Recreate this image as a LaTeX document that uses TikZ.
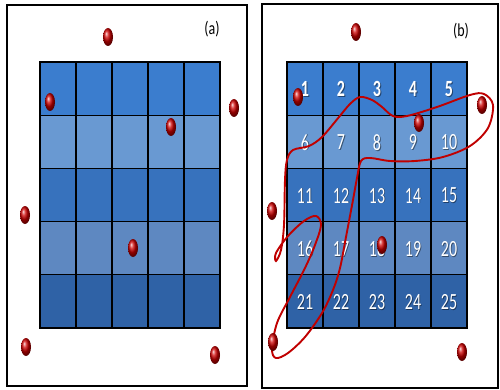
\documentclass[tikz,border=0pt]{standalone}
\usepackage{graphicx}
\usepackage{fontspec}
\setmainfont{Carlito}
\usetikzlibrary{shapes.geometric}
\definecolor{rowA}{HTML}{3B7DCE}
\definecolor{rowB}{HTML}{6999D2}
\definecolor{rowC}{HTML}{3772BD}
\definecolor{rowD}{HTML}{5E88C1}
\definecolor{rowE}{HTML}{2F62A6}
\definecolor{curvecol}{HTML}{C00000}
\begin{document}
\begin{tikzpicture}[x=1pt,y=-1pt,
  ballnode/.style={ellipse, minimum width=10pt, minimum height=18pt, inner sep=0pt, shading=ball, ball color=red!80!black},
  framebox/.style={draw=black, line width=1.6pt},
  cellbox/.style={draw=black, line width=1.2pt, minimum width=36pt, minimum height=53.2pt, inner sep=0pt},
  numtext/.style={inner sep=0pt, text=white, font=\fontsize{16}{16}\selectfont},
  numshadow/.style={inner sep=0pt, text=black, opacity=0.45, font=\fontsize{16}{16}\selectfont},
  labelnode/.style={font=\fontsize{14}{14}\selectfont, text=black},
  loopcurve/.style={draw=curvecol, line width=1.9pt}]
\useasboundingbox (0,0) rectangle (500,390);
\fill[white] (0,0) rectangle (500,390);
% frames
\draw[framebox] (7,5) rectangle (247,386);
\draw[framebox] (262,4) rectangle (498,388);
% grids
\foreach \r/\c in {0/rowA,1/rowB,2/rowC,3/rowD,4/rowE}{
  \foreach \k in {0,...,4}{
    \pgfmathtruncatemacro\n{\r*5+\k+1}
    \node[cellbox, fill=\c] (L\n) at (58+36*\k, 88.6+53.2*\r) {};
    \node[cellbox, fill=\c] (R\n) at (305+36*\k, 88.6+53.2*\r) {};
  }
}
% numbers
\foreach \r in {0,...,4}{
  \foreach \k in {0,...,4}{
    \pgfmathtruncatemacro\n{\r*5+\k+1}
    \node[numshadow] (S\n) at (305.8+36*\k, 90+53.2*\r)
      {\scalebox{1}[1.45]{\ifnum\r=0 \bfseries\fi\n}};
    \node[numtext] (N\n) at (305+36*\k, 89.2+53.2*\r)
      {\scalebox{1}[1.45]{\ifnum\r=0 \bfseries\fi\n}};
  }
}
% labels
\node[labelnode] (la) at (212,29) {\scalebox{1}[1.3]{(a)}};
\node[labelnode] (lb) at (461,31) {\scalebox{1}[1.3]{(b)}};
% red loop
\draw[loopcurve] plot[smooth cycle, tension=0.55] coordinates {
 (285,180) (287,160) (293,150) (309,146) (322,137) (339,117) (350,104) (360,97)
 (372,100) (382,107) (393,116) (407,116) (437,107) (470,95) (484,94) (493,105)
 (488,128) (470,146) (443,157) (415,161) (390,161) (370,158) (361,161) (357,178)
 (353,200) (346,237) (340,268) (333,290) (322,313) (305,337) (288,353) (276,358)
 (272,349) (277,323) (290,297) (305,268) (315,245) (321,225) (316,216) (304,221)
 (288,236) (276,253) (276,261) (281,250) (284,225)};
% balls left
\node[ballnode] (a1) at (108,37) {};
\node[ballnode] (a2) at (50,102) {};
\node[ballnode] (a3) at (234,108) {};
\node[ballnode] (a4) at (171,127) {};
\node[ballnode] (a5) at (25,215) {};
\node[ballnode] (a6) at (133,248) {};
\node[ballnode] (a7) at (26,347) {};
\node[ballnode] (a8) at (215,355) {};
% balls right
\node[ballnode] (b1) at (356,32) {};
\node[ballnode] (b2) at (298,97) {};
\node[ballnode] (b3) at (482,105) {};
\node[ballnode] (b4) at (419,123) {};
\node[ballnode] (b5) at (272,211) {};
\node[ballnode] (b6) at (382,245) {};
\node[ballnode] (b7) at (273,342) {};
\node[ballnode] (b8) at (462,352) {};
\end{tikzpicture}
\end{document}
